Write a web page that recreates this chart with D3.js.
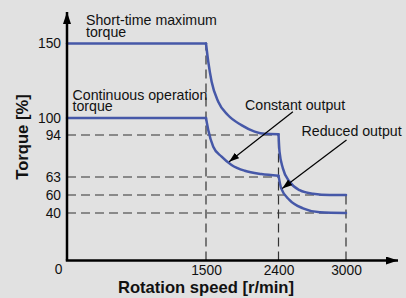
<!DOCTYPE html>
<html>
<head>
<meta charset="utf-8">
<script src="https://cdn.jsdelivr.net/npm/d3@7/dist/d3.min.js"></script>
<style>
body { margin: 0; background: #e1e1e1; }
text { font-family: Arial, "Liberation Sans", sans-serif; fill: #111; }
</style>
</head>
<body>
<script>
// tick values
var speedTicks = [0, 1500, 2400, 3000];
var torqueTicks = [40, 60, 63, 94, 100, 150];

// short-time maximum torque curve
var maxSpeed = [0, 1500, 1528, 1570, 1652, 1771, 1940, 2104, 2227, 2400, 2409, 2439, 2499, 2588, 2707, 2857, 3000];
var maxTorque = [150, 150, 137.8, 124.4, 110.9, 102, 97.5, 95.2, 94.4, 94.3, 81.7, 69.4, 62.2, 60.8, 60.2, 60, 60];

// continuous operation torque curve
var contSpeed = [0, 1500, 1528, 1590, 1694, 1817, 1981, 2187, 2400, 2424, 2499, 2618, 2767, 3000];
var contTorque = [100, 100, 95.8, 85.4, 78, 71.9, 67.6, 65.2, 64, 61.1, 54.4, 45.2, 40.8, 40];

// speeds where the curves have a sharp corner
var cornerSpeeds = [1500, 2400];

// dashed guide lines
var hGuideTorque = [94, 63, 60, 40];
var hGuideEnd = [2400, 2400, 3000, 3000];
var vGuideSpeed = [1500, 2400, 3000];
var vGuideTop = [150, 94, 60];

var width = 406, height = 298;

var svg = d3.select('body')
	.append('svg')
	.attr('width', width)
	.attr('height', height);

var x = d3.scaleLinear()
	.domain([0, 1500, 2400, 3000])
	.range([67, 206, 278.5, 346]);

var y = d3.scaleLinear()
	.domain([0, 40, 60, 63, 94, 100, 150])
	.range([260.5, 213, 195, 177, 135, 118, 43.5]);

var defs = svg.append('defs');
defs.append('marker')
	.attr('id', 'axisHead')
	.attr('viewBox', '0 0 12 8')
	.attr('refX', 12).attr('refY', 4)
	.attr('markerWidth', 12).attr('markerHeight', 8)
	.attr('markerUnits', 'userSpaceOnUse')
	.attr('orient', 'auto')
	.append('path').attr('d', 'M0,0L12,4L0,8Z').attr('fill', '#000');
defs.append('marker')
	.attr('id', 'noteHead')
	.attr('viewBox', '0 0 10 7')
	.attr('refX', 10).attr('refY', 3.5)
	.attr('markerWidth', 10).attr('markerHeight', 7)
	.attr('markerUnits', 'userSpaceOnUse')
	.attr('orient', 'auto')
	.append('path').attr('d', 'M0,0L10,3.5L0,7Z').attr('fill', '#000');

// dashed guides
svg.selectAll('.hguide')
	.data(hGuideTorque)
	.enter()
	.append('line')
	.attr('class', 'hguide')
	.attr('x1', x(0))
	.attr('x2', function(d, i) { return x(hGuideEnd[i]); })
	.attr('y1', function(d) { return y(d); })
	.attr('y2', function(d) { return y(d); })
	.attr('stroke', '#333')
	.attr('stroke-width', 1.2)
	.attr('stroke-dasharray', '9,5');

svg.selectAll('.vguide')
	.data(vGuideSpeed)
	.enter()
	.append('line')
	.attr('class', 'vguide')
	.attr('x1', function(d) { return x(d); })
	.attr('x2', function(d) { return x(d); })
	.attr('y1', y(0))
	.attr('y2', function(d, i) { return y(vGuideTop[i]); })
	.attr('stroke', '#333')
	.attr('stroke-width', 1.2)
	.attr('stroke-dasharray', '9,5');

// split a curve into pieces at the corner speeds
function pieces(speeds, torques) {
	var out = [], cur = [];
	speeds.forEach(function(s, i) {
		cur.push([s, torques[i]]);
		if (cornerSpeeds.indexOf(s) >= 0) {
			out.push(cur);
			cur = [[s, torques[i]]];
		}
	});
	out.push(cur);
	return out;
}

var line = d3.line()
	.x(function(d) { return x(d[0]); })
	.y(function(d) { return y(d[1]); })
	.curve(d3.curveMonotoneX);

svg.selectAll('.curve')
	.data(pieces(maxSpeed, maxTorque).concat(pieces(contSpeed, contTorque)))
	.enter()
	.append('path')
	.attr('class', 'curve')
	.attr('d', line)
	.attr('fill', 'none')
	.attr('stroke', '#4658a8')
	.attr('stroke-width', 2.5)
	.attr('stroke-linecap', 'round')
	.attr('stroke-linejoin', 'round');

// axes lines with arrows
svg.append('line')
	.attr('x1', x(0)).attr('y1', y(0))
	.attr('x2', x(0)).attr('y2', 12)
	.attr('stroke', '#000').attr('stroke-width', 2.5)
	.attr('marker-end', 'url(#axisHead)');
svg.append('line')
	.attr('x1', x(0) - 1.2).attr('y1', y(0))
	.attr('x2', 398).attr('y2', y(0))
	.attr('stroke', '#000').attr('stroke-width', 2.5)
	.attr('marker-end', 'url(#axisHead)');

// tick labels
var yAxis = svg.append('g')
	.attr('transform', 'translate(' + x(0) + ',0)')
	.call(d3.axisLeft(y).tickValues(torqueTicks).tickSize(0).tickPadding(6).tickFormat(d3.format('d')));
var xAxis = svg.append('g')
	.attr('transform', 'translate(0,' + y(0) + ')')
	.call(d3.axisBottom(x).tickValues(speedTicks).tickSize(0).tickPadding(5).tickFormat(d3.format('d')));
[yAxis, xAxis].forEach(function(g) {
	g.select('.domain').remove();
	g.selectAll('text')
		.style('font-family', 'Arial, "Liberation Sans", sans-serif')
		.style('font-size', '13.8px')
		.attr('fill', '#111');
});
xAxis.selectAll('.tick')
	.filter(function(d) { return d === 0; })
	.select('text')
	.attr('x', -9)
	.attr('dy', '0.64em');

// axis titles
svg.append('text')
	.attr('x', 206)
	.attr('y', 292.7)
	.attr('text-anchor', 'middle')
	.style('font-size', '16.6px')
	.style('font-weight', 'bold')
	.text('Rotation speed [r/min]');
svg.append('text')
	.attr('transform', 'translate(27.5,137) rotate(-90)')
	.attr('text-anchor', 'middle')
	.style('font-size', '16.6px')
	.style('font-weight', 'bold')
	.text('Torque [%]');

// curve labels
function label(lines, tx, ty) {
	var t = svg.append('text')
		.attr('x', tx)
		.attr('y', ty)
		.style('font-size', '14.2px');
	lines.forEach(function(s, i) {
		t.append('tspan')
			.attr('x', tx)
			.attr('dy', i ? 11.5 : 0)
			.text(s);
	});
}
label(['Short-time maximum', 'torque'], 86, 25.3);
label(['Continuous operation', 'torque'], 72.5, 99.5);
label(['Constant output'], 245, 109.5);
label(['Reduced output'], 301.5, 136);

// annotation arrows
svg.append('line')
	.attr('x1', x(2528)).attr('y1', y(104.2))
	.attr('x2', x(1787)).attr('y2', y(74.3))
	.attr('stroke', '#000').attr('stroke-width', 1.2)
	.attr('marker-end', 'url(#noteHead)');
svg.append('line')
	.attr('x1', 346.5).attr('y1', y(90.3))
	.attr('x2', x(2433)).attr('y2', y(61.1))
	.attr('stroke', '#000').attr('stroke-width', 1.2)
	.attr('marker-end', 'url(#noteHead)');
</script>
</body>
</html>
